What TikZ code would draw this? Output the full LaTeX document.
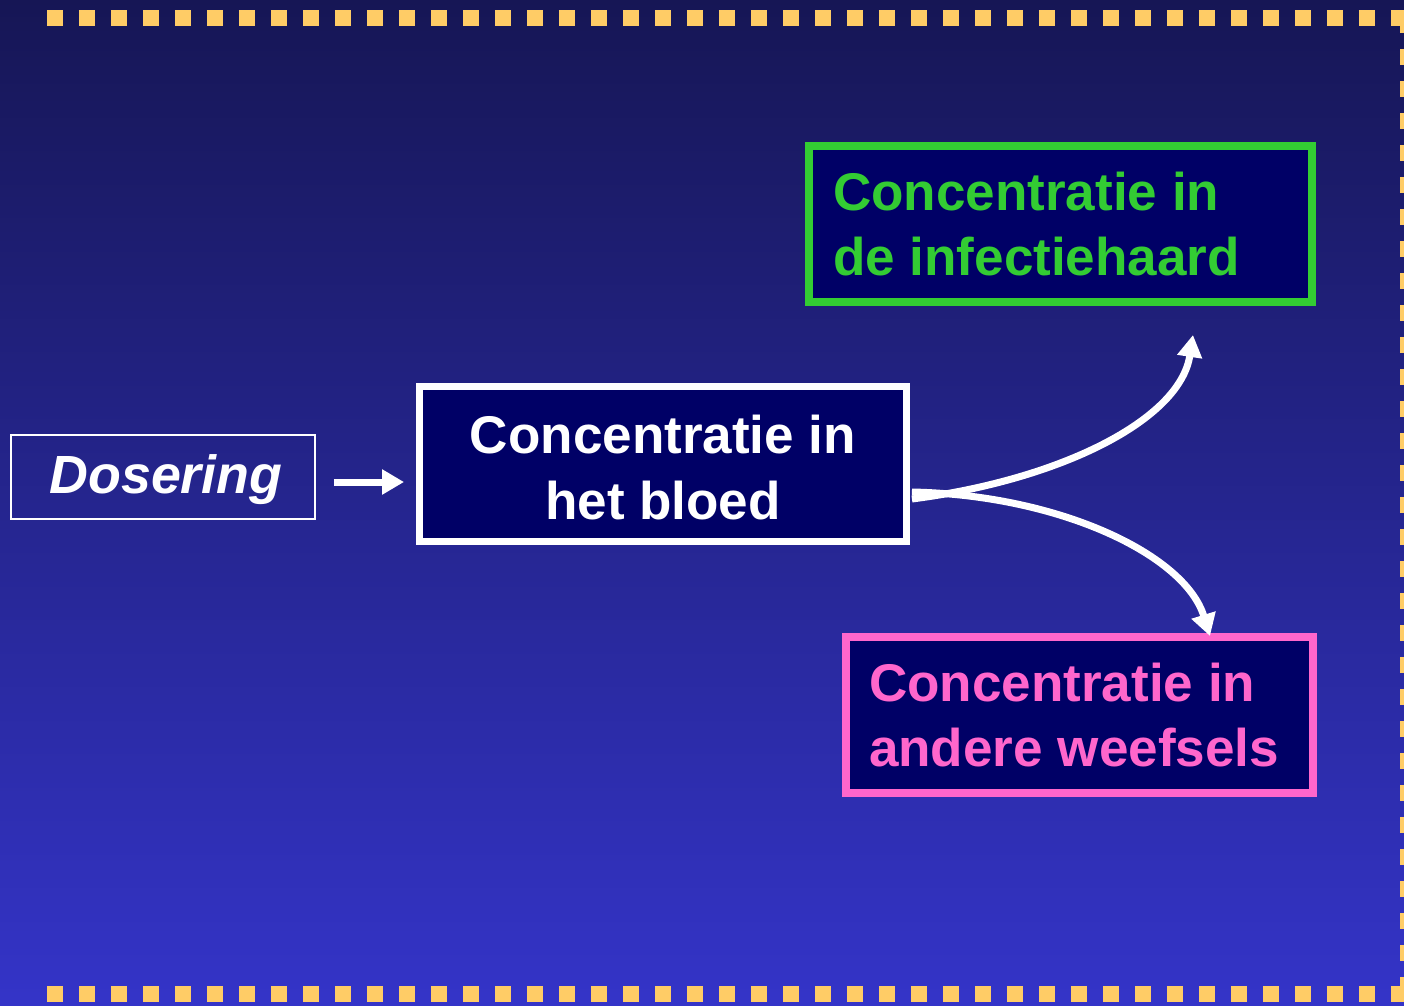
\documentclass[tikz,border=0pt]{standalone}
\usepackage{fontspec}
\setmainfont{Liberation Sans}
\usetikzlibrary{arrows.meta}

\definecolor{bgtop}{HTML}{161655}
\definecolor{bgmid}{HTML}{2828A0}
\definecolor{bgbottom}{HTML}{3434C8}
\definecolor{boxnavy}{HTML}{000066}
\definecolor{framegold}{HTML}{FFCC66}
\definecolor{sitegreen}{HTML}{33CC33}
\definecolor{tissuepink}{HTML}{FF66CC}

\tikzset{
	bigtext/.style={font=\fontsize{30.2}{37.4}\selectfont\bfseries},
	concbox/.style={draw, bigtext, fill=boxnavy, line width=0.16cm, minimum height=3.12cm, inner xsep=0.48cm, align=flush left},
	framedash/.style={framegold, line width=0.32cm, dash pattern=on 0.32cm off 0.32cm},
	flow/.style={white, line width=0.14cm, -{Triangle[length=0.44cm,width=0.48cm]}}
}

\begin{document}
\begin{tikzpicture}[x=0.02cm,y=-0.02cm]
	\useasboundingbox (0,0) rectangle (1404,1005);
	% Draw the background
	\shade[top color=bgtop, middle color=bgmid, bottom color=bgbottom] (0,0) rectangle (1404,1005);
	% Draw the dotted frame
	\draw[framedash] (47,17.5) -- (1408,17.5);
	\draw[framedash] (1408,17) -- (1408,994);
	\draw[framedash] (47,994) -- (1408,994);
	% Draw the boxes
	\node[draw=white, line width=0.04cm, text=white, font=\fontsize{30.6}{37.4}\selectfont\bfseries\itshape, text height=0.84cm, text depth=0.2cm, minimum width=6.08cm, minimum height=1.68cm] (dose) at (163,477) {\hspace{0.12cm}Dosering};
	\node[concbox, draw=white, text=white, line width=0.14cm, align=center, minimum width=9.74cm, minimum height=3.1cm] (blood) at (663,464) {\rule{0pt}{0.86em}Concentratie in\\het bloed};
	\node[concbox, draw=sitegreen, text=sitegreen, text width=9.1cm, minimum width=10.06cm] (site) at (1060.5,224) {Concentratie in\\de infectiehaard};
	\node[concbox, draw=tissuepink, text=tissuepink, inner xsep=0.46cm, text width=8.42cm, minimum width=9.34cm] (tissue) at (1079.5,715) {Concentratie in\\andere weefsels};
	% Draw the arrows
	\draw[flow] ([xshift=0.36cm,yshift=-0.1cm]dose.east) -- ([xshift=-0.24cm,yshift=-0.1cm]dose.east -| blood.west);
	\draw[flow] ([xshift=0.04cm,yshift=-0.7cm]blood.east) .. controls (1060,480) and (1180,420) .. ([xshift=2.65cm,yshift=-0.58cm]site.south);
	\draw[flow] ([xshift=0.04cm,yshift=-0.56cm]blood.east) .. controls (1060,495) and (1185,555) .. ([xshift=2.61cm,yshift=-0.06cm]tissue.north);
\end{tikzpicture}
\end{document}
